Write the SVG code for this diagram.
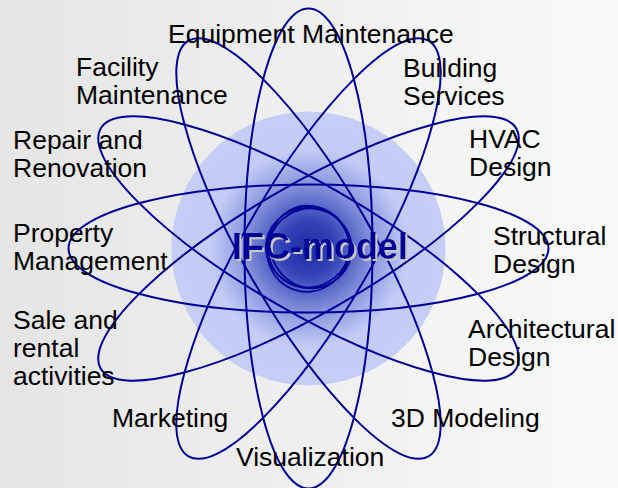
<svg xmlns="http://www.w3.org/2000/svg" width="618" height="488" viewBox="0 0 618 488">
<defs>
<linearGradient id="bg" x1="0" y1="0" x2="1" y2="0">
<stop offset="0" stop-color="#e5e5e5"/>
<stop offset="1" stop-color="#fafafa"/>
</linearGradient>
<radialGradient id="core" cx="0.5" cy="0.5" r="0.5">
<stop offset="0" stop-color="#1a2aa6"/>
<stop offset="0.2" stop-color="#3344b6"/>
<stop offset="0.5" stop-color="#8f9ce0"/>
<stop offset="0.72" stop-color="#c4ccf6"/>
<stop offset="1" stop-color="#c6cdf7"/>
</radialGradient>
<filter id="shadow" x="-10%" y="-20%" width="120%" height="140%">
<feOffset in="SourceAlpha" dx="2" dy="2" result="off"/>
<feFlood flood-color="#c8c8c8"/>
<feComposite in2="off" operator="in" result="sh"/>
<feMerge><feMergeNode in="sh"/><feMergeNode in="SourceGraphic"/></feMerge>
</filter>
<style>
.orb{fill:none;stroke:#000099;stroke-width:2}
.knot{fill:none;stroke:#000099;stroke-width:1.6}
.lbl{font-family:"Liberation Sans",Arial,sans-serif;font-size:26.5px;fill:#000}
.core{font-family:"Liberation Sans",Arial,sans-serif;font-size:36px;font-weight:bold;fill:#000099}
</style>
</defs>
<rect width="618" height="488" fill="url(#bg)"/>
<circle cx="308.5" cy="248.5" r="137" fill="url(#core)"/>
<g id="connectors">
<ellipse class="orb" cx="308.5" cy="248.5" rx="240" ry="64"/>
<ellipse class="orb" cx="308.5" cy="248.5" rx="240" ry="64" transform="rotate(30 308.5 248.5)"/>
<ellipse class="orb" cx="308.5" cy="248.5" rx="240" ry="64" transform="rotate(60 308.5 248.5)"/>
<ellipse class="orb" cx="308.5" cy="248.5" rx="240" ry="64" transform="rotate(90 308.5 248.5)"/>
<ellipse class="orb" cx="308.5" cy="248.5" rx="240" ry="64" transform="rotate(120 308.5 248.5)"/>
<ellipse class="orb" cx="308.5" cy="248.5" rx="240" ry="64" transform="rotate(150 308.5 248.5)"/>
<ellipse class="knot" cx="309" cy="248" rx="43" ry="40" transform="rotate(10 309 248)"/>
<ellipse class="knot" cx="310" cy="247" rx="42" ry="39" transform="rotate(60 310 247)"/>
<ellipse class="knot" cx="308" cy="249" rx="43" ry="41" transform="rotate(110 308 249)"/>
<ellipse class="knot" cx="309" cy="248" rx="41" ry="39" transform="rotate(150 309 248)"/>
</g>
<g id="ifc-model">
<text class="core" x="320" y="259" text-anchor="middle" filter="url(#shadow)">IFC-model</text>
</g>
<g id="equipment-maintenance"><text class="lbl" x="168" y="43">Equipment Maintenance</text></g>
<g id="facility-maintenance"><text class="lbl" x="76" y="76">Facility</text><text class="lbl" x="76" y="104">Maintenance</text></g>
<g id="repair-renovation"><text class="lbl" x="13" y="149">Repair and</text><text class="lbl" x="13" y="177">Renovation</text></g>
<g id="property-management"><text class="lbl" x="13" y="242">Property</text><text class="lbl" x="13" y="270">Management</text></g>
<g id="sale-rental"><text class="lbl" x="13" y="329">Sale and</text><text class="lbl" x="13" y="357">rental</text><text class="lbl" x="13" y="385">activities</text></g>
<g id="marketing"><text class="lbl" x="112" y="427">Marketing</text></g>
<g id="visualization"><text class="lbl" x="236" y="466">Visualization</text></g>
<g id="modeling-3d"><text class="lbl" x="391" y="427">3D Modeling</text></g>
<g id="architectural-design"><text class="lbl" x="468" y="338">Architectural</text><text class="lbl" x="468" y="366">Design</text></g>
<g id="structural-design"><text class="lbl" x="493" y="245">Structural</text><text class="lbl" x="493" y="273">Design</text></g>
<g id="hvac-design"><text class="lbl" x="469" y="148">HVAC</text><text class="lbl" x="469" y="176">Design</text></g>
<g id="building-services"><text class="lbl" x="403" y="77">Building</text><text class="lbl" x="403" y="105">Services</text></g>
</svg>
